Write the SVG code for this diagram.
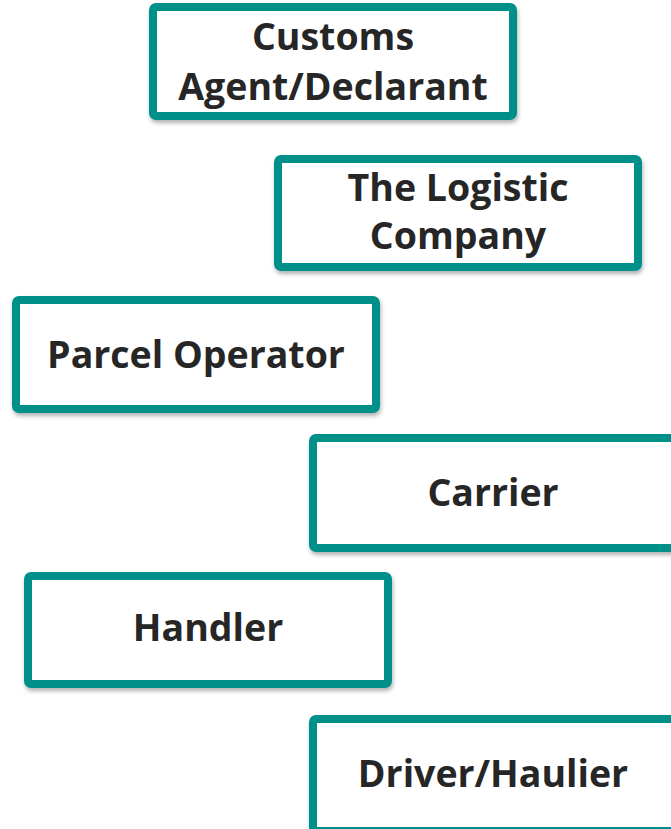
<svg xmlns="http://www.w3.org/2000/svg" width="671" height="829" viewBox="0 0 671 829">
<style>
.box{fill:#ffffff;stroke:#00908a;stroke-width:8;filter:url(#sh)}
.t{font-family:"Open Sans","Liberation Sans",sans-serif;font-weight:700;font-size:37.5px;fill:#262626;text-anchor:middle}
</style>
<defs>
<filter id="sh" x="-10%" y="-10%" width="120%" height="130%">
<feDropShadow dx="1" dy="3" stdDeviation="2" flood-color="#000" flood-opacity="0.3"/>
</filter>
</defs>
<rect width="671" height="829" fill="#ffffff"/>
<g id="customs">
<rect class="box" x="153" y="7" width="360" height="109" rx="3"/>
<text class="t" x="333" y="50">Customs</text>
<text class="t" x="333" y="100">Agent/Declarant</text>
</g>
<g id="logistic">
<rect class="box" x="278" y="159" width="360" height="108" rx="3"/>
<text class="t" x="458" y="201">The Logistic</text>
<text class="t" x="458" y="249">Company</text>
</g>
<g id="parcel">
<rect class="box" x="16" y="300" width="360" height="109" rx="3"/>
<text class="t" x="196" y="368">Parcel Operator</text>
</g>
<g id="carrier">
<rect class="box" x="313" y="438" width="362" height="110" rx="3"/>
<text class="t" x="493" y="506">Carrier</text>
</g>
<g id="handler">
<rect class="box" x="28" y="576" width="360" height="108" rx="3"/>
<text class="t" x="208" y="641">Handler</text>
</g>
<g id="driver">
<rect class="box" x="313" y="719" width="362" height="112" rx="3"/>
<text class="t" x="493" y="787">Driver/Haulier</text>
</g>
<g id="connectors"/>
</svg>
